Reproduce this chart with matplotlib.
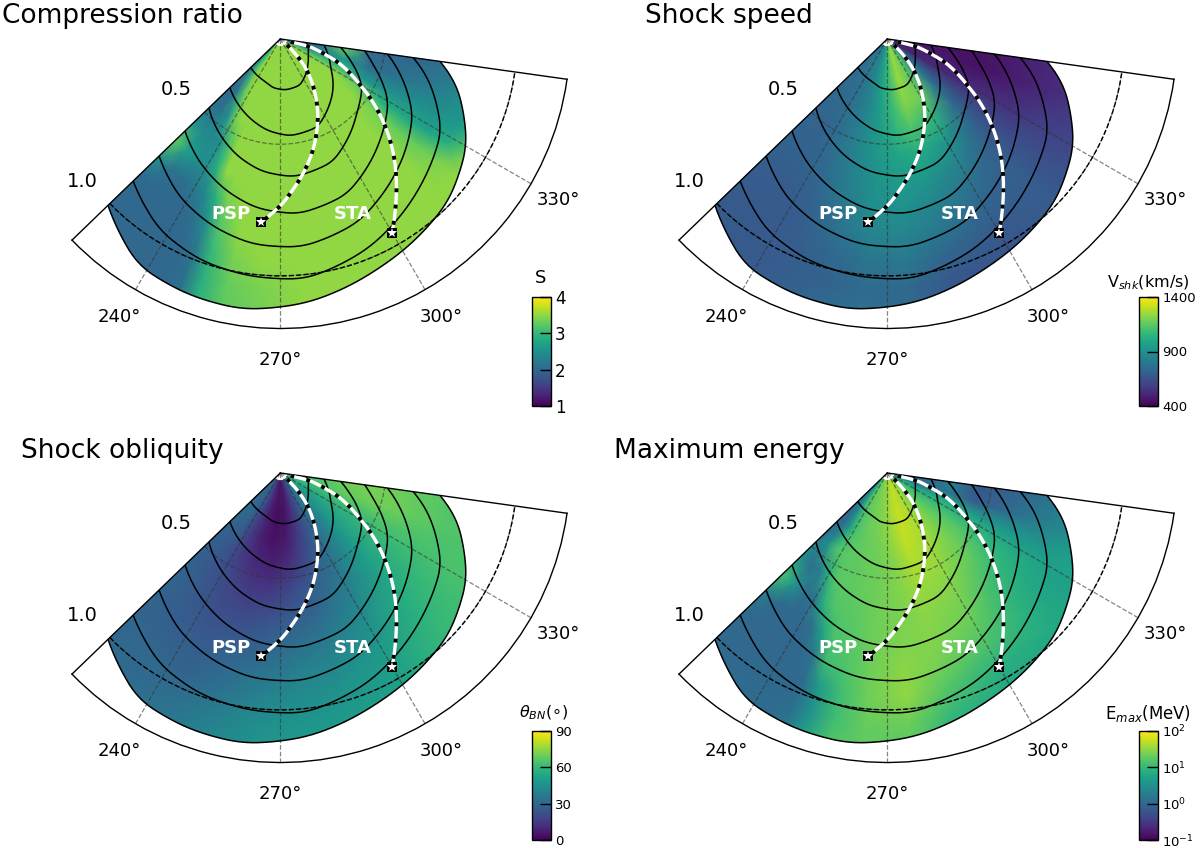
import numpy as np
import matplotlib
matplotlib.use("Agg")
import matplotlib.pyplot as plt
from matplotlib.colors import Normalize, LogNorm
from matplotlib.patches import Polygon
from matplotlib.ticker import FixedLocator

W, H = 1200, 848
GRID_THETA = [224, 235, 245, 255, 265, 275, 285, 300, 315, 330, 342, 352]
FINE_GRID_THETA = [224, 230, 236, 240, 244, 248, 252, 258, 265, 275, 285, 300, 315, 322, 328, 334, 342, 352]
GRID_R = [0.13, 0.25, 0.35, 0.45, 0.55, 0.65, 0.75, 0.85, 0.95, 1.05, 1.15, 1.2]

compression = [
 [2.4,3.0,3.4,3.5,3.5,3.5,3.5,3.5,3.5,3.5,3.5,3.5,3.5,3.5,3.5,3.3,2.6,2.1],
 [2.0,3.0,3.5,3.5,3.5,3.5,3.5,3.5,3.5,3.5,3.5,3.5,3.5,3.5,3.5,3.2,2.3,2.0],
 [2.0,2.1,3.2,3.5,3.5,3.5,3.5,3.5,3.5,3.5,3.5,3.5,3.5,3.5,3.5,3.1,2.6,3.3],
 [2.1,2.1,2.5,3.3,3.5,3.5,3.5,3.5,3.5,3.5,3.5,3.5,3.5,3.5,3.3,2.6,2.1,2.0],
 [2.5,2.4,2.4,2.5,3.1,3.5,3.5,3.5,3.5,3.5,3.5,3.5,3.5,3.4,2.9,2.5,2.1,2.0],
 [3.3,2.7,2.5,2.5,2.9,3.5,3.5,3.5,3.5,3.5,3.5,3.5,3.5,3.3,2.8,2.5,2.2,2.0],
 [2.5,2.1,2.1,2.2,2.4,2.9,3.4,3.5,3.5,3.5,3.5,3.5,3.5,3.3,2.7,2.5,2.3,2.1],
 [2.0,2.0,2.0,2.0,2.1,2.5,3.2,3.5,3.5,3.5,3.5,3.5,3.5,3.4,2.9,2.6,2.5,2.3],
 [2.0,2.0,2.0,2.0,2.0,2.2,3.0,3.4,3.5,3.5,3.5,3.5,3.5,3.5,3.4,3.0,2.8,2.5],
 [2.0,2.0,2.0,2.0,2.0,2.1,2.9,3.3,3.4,3.5,3.5,3.5,3.5,3.5,3.5,3.2,3.0,2.8],
 [2.0,2.0,2.0,2.0,2.0,2.1,2.9,3.25,3.35,3.5,3.5,3.5,3.5,3.5,3.5,3.2,3.0,2.8],
 [2.0,2.0,2.0,2.0,2.0,2.1,2.9,3.25,3.35,3.5,3.5,3.5,3.5,3.5,3.5,3.2,3.0,2.8],
]
speed = [
 [780,810,850,900,1000,1150,1250,1150,800,500,480,470],
 [740,770,810,880,990,1120,1250,1150,800,520,470,470],
 [740,750,790,860,970,1090,1220,1180,780,520,460,450],
 [730,730,780,860,950,1050,1120,1050,750,520,450,450],
 [720,720,770,850,930,980,1010,920,720,540,460,470],
 [710,710,750,830,910,940,930,840,690,550,490,500],
 [700,690,720,800,890,900,860,760,690,590,520,520],
 [690,680,700,770,850,850,800,720,690,600,550,550],
 [680,680,690,730,790,800,730,680,690,620,580,580],
 [680,680,690,710,750,740,670,660,680,650,600,600],
 [680,680,700,740,770,730,670,680,680,650,600,600],
 [680,680,700,740,770,730,670,680,680,650,600,600],
]
obliquity = [
 [27,27,20,12,6,5,10,25,42,54,60,60],
 [32,30,18,8,3,4,12,28,44,55,64,66],
 [30,27,15,7,4,6,15,30,46,58,68,70],
 [28,24,16,10,8,12,20,33,48,60,70,72],
 [28,24,19,15,15,20,26,36,50,62,70,70],
 [29,25,21,20,22,26,30,40,53,62,68,68],
 [29,26,24,25,28,32,36,44,56,63,66,66],
 [29,28,27,30,34,38,41,48,58,64,65,65],
 [30,30,29,34,40,43,45,50,60,64,64,64],
 [31,31,33,38,44,47,48,52,60,64,64,64],
 [33,33,36,42,47,49,50,53,60,64,64,64],
 [33,33,36,42,47,49,50,53,60,64,64,64],
]
emax = [
 [3,6,15,20,22,22,25,28,30,40,50,40,20,14,10,6,2,1.5],
 [1.2,2,10,15,18,20,22,24,28,40,55,40,20,14,10,6,1,1],
 [1,1.2,5,12,15,18,20,22,25,35,55,40,22,16,11,7,1.5,2],
 [1.5,3,14,16,17,18,18,20,22,28,45,35,22,16,10,5,0.7,0.6],
 [3,1.2,2,8,16,18,18,20,22,26,35,30,18,12,8,4,1,0.8],
 [14,4,1.2,1.5,8,15,16,18,22,25,30,25,12,9,7,4,1.5,1],
 [2,1,1,1,1.3,6,14,16,22,26,28,20,9,7,6,4,2,1.5],
 [1,1,1,1,1,1.5,12,15,22,30,24,14,8,6,5,5,3,2],
 [1,1,1,1,1,1.1,4,12,22,32,16,8,7,6,5,5,4,3],
 [1.2,1.1,1.1,1.1,1.1,1.2,3,12,20,22,10,6,6,6,6,5,5,4],
 [1.2,1.1,1.1,1.1,1.1,1.5,5,15,18,16,8,6,6,6,6,5,5,4],
 [1.2,1.1,1.1,1.1,1.1,1.5,5,15,18,16,8,6,6,6,6,5,5,4],
]

FRONT_THETA = [224, 238, 250, 262, 276, 293, 316, 330, 345, 352]
front_1 = [.256,.264,.271,.287,.294,.290,.245,.222,.210,.199]
front_2 = [.366,.397,.424,.450,.469,.462,.378,.321,.283,.268]
front_3 = [.477,.530,.572,.606,.625,.606,.504,.458,.366,.332]
front_4 = [.603,.663,.709,.747,.766,.740,.633,.572,.462,.424]
front_5 = [.740,.812,.854,.884,.892,.854,.747,.679,.564,.511]
front_6 = [.877,.957,.991,1.006,1.014,.960,.861,.804,.679,.610]
front_7 = [1.010,1.113,1.130,1.135,1.105,1.048,.985,.915,.793,.713]
fronts = [front_1, front_2, front_3, front_4, front_5, front_6, front_7]

psp_theta = [318,314.5,310.6,300.8,295.9,291.9,287.2,278.7,274.7,270.9,267,264.1]
psp_r = [.134,.195,.252,.366,.427,.473,.530,.629,.675,.724,.766,.800]
sta_theta = [345,345.8,341.4,338,334,330,327,320.5,314.3,310,305,300]
sta_r = [.140,.210,.271,.336,.393,.450,.504,.614,.717,.785,.865,.949]

titles = ["Compression ratio", "Shock speed", "Shock obliquity", "Maximum energy"]
title_x = [2, 645, 21, 614]
title_base = [23, 23, 458, 458]
bar_labels = ["S", r"V$_{shk}$(km/s)", r"$\theta_{BN}(\circ)$", r"E$_{max}$(MeV)"]
bar_ticks = [[1, 2, 3, 4], [400, 900, 1400], [0, 30, 60, 90], [0.1, 1, 10, 100]]
fields = [compression, speed, obliquity, emax]
field_theta = [FINE_GRID_THETA, GRID_THETA, GRID_THETA, FINE_GRID_THETA]
norms = [Normalize(1, 4), Normalize(400, 1400), Normalize(0, 90), LogNorm(0.1, 100)]
tick_sizes = [12, 9.5, 9.5, 9.5]
label_sizes = [13, 11.5, 11.5, 12]

plt.rcParams["font.family"] = "DejaVu Sans"
fig = plt.figure(figsize=(W / 100, H / 100), dpi=100)


def box(x0, y0, x1, y1):
    return [x0 / W, 1 - y1 / H, (x1 - x0) / W, (y1 - y0) / H]


def smooth(y, n=7):
    pad = np.pad(y, n, mode="reflect", reflect_type="odd")
    return np.convolve(pad, np.ones(2 * n + 1) / (2 * n + 1), mode="same")[n:-n]


fine_theta = np.arange(224, 352.01, 0.5)
rad = np.deg2rad


def dense_path(theta, r):
    u = np.arange(len(theta))
    t = np.linspace(0, len(theta) - 1, 200)
    return smooth(np.interp(t, u, theta), 6), smooth(np.interp(t, u, r), 6)


for i in range(4):
    col, row = i % 2, i // 2
    dx, dy = 607 * col, 434 * row
    ax = fig.add_axes(box(72 + dx, -61.5 + dy, 567 + dx, 433.5 + dy), projection="polar")
    ax.set_thetamin(224)
    ax.set_thetamax(352)
    ax.set_rorigin(0.1)
    ax.set_rlim(0.1, 1.2)

    T, R = np.meshgrid(rad(field_theta[i]), GRID_R)
    mesh = ax.pcolormesh(T, R, np.array(fields[i], float), cmap="viridis",
                         norm=norms[i], shading="gouraud", zorder=1)

    outer = smooth(np.interp(fine_theta, FRONT_THETA, front_7))
    clip_xy = np.column_stack([rad(fine_theta), outer])
    clip_xy = np.vstack([clip_xy, [rad(352), 0.1], [rad(224), 0.1]])
    clip = Polygon(clip_xy, closed=True, transform=ax.transData)
    mesh.set_clip_path(clip)

    ax.set_thetagrids([240, 270, 300, 330], ["240°", "270°", "300°", "330°"])
    ax.set_rgrids([0.5, 1.0], ["0.5", "1.0"])
    ax.tick_params(axis="x", pad=16, length=0, labelsize=13)
    ax.tick_params(axis="y", pad=13, length=0, labelsize=14)
    ax.grid(True, color="#333333", alpha=0.6, lw=0.9, ls="--")
    ax.yaxis.get_gridlines()[1].set_alpha(0)
    ax.plot(rad(fine_theta), np.full_like(fine_theta, 1.0), color="k", lw=1, ls="--", zorder=3)

    for fr in fronts:
        ax.plot(rad(fine_theta), smooth(np.interp(fine_theta, FRONT_THETA, fr)),
                color="k", lw=1.1, zorder=3)

    for th, rr in ((psp_theta, psp_r), (sta_theta, sta_r)):
        pth, pr = dense_path(th, rr)
        ax.plot(rad(pth), pr, color="white", lw=2.4, zorder=4, solid_capstyle="butt")
        ax.plot(rad(pth), pr, color="k", lw=2.8, ls=(0, (1.0, 3.2)), zorder=5)
        ax.plot(rad(th[-1]), rr[-1], marker="s", ms=7, mfc="k", mec="k", mew=0, zorder=6)
        ax.plot(rad(th[-1]), rr[-1], marker="*", ms=7, mfc="white", mec="white", mew=0, zorder=7)

    ax.annotate("PSP", (rad(psp_theta[-1]), psp_r[-1]), xytext=(-22, 6),
                textcoords="offset points", color="white", fontweight="bold",
                fontsize=13, ha="center", va="center", zorder=8)
    ax.annotate("STA", (rad(sta_theta[-1]), sta_r[-1]), xytext=(-28, 13),
                textcoords="offset points", color="white", fontweight="bold",
                fontsize=13, ha="center", va="center", zorder=8)

    for s in ax.spines.values():
        s.set_linewidth(1.0)
        s.set_color("k")

    fig.text(title_x[i] / W, 1 - title_base[i] / H, titles[i],
             fontsize=19, ha="left", va="baseline")

    cax = fig.add_axes(box(532 + dx, 297 + dy, 551 + dx, 406 + dy))
    cb = fig.colorbar(mesh, cax=cax)
    cb.ax.yaxis.set_major_locator(FixedLocator(bar_ticks[i]))
    cb.ax.yaxis.set_minor_locator(FixedLocator([]))
    cb.set_ticks(bar_ticks[i])
    cb.ax.tick_params(which="major", direction="in", length=8, width=1,
                      labelsize=tick_sizes[i], pad=3, color="k")
    cb.outline.set_linewidth(1)
    lx = 541 if i == 0 else (544 if i == 2 else 1148)
    ly = 278 if i == 0 else (283 if i == 1 else 713)
    fig.text(lx / W, 1 - ly / H, bar_labels[i], fontsize=label_sizes[i], ha="center", va="center")

fig.savefig("out.png", dpi=100)
